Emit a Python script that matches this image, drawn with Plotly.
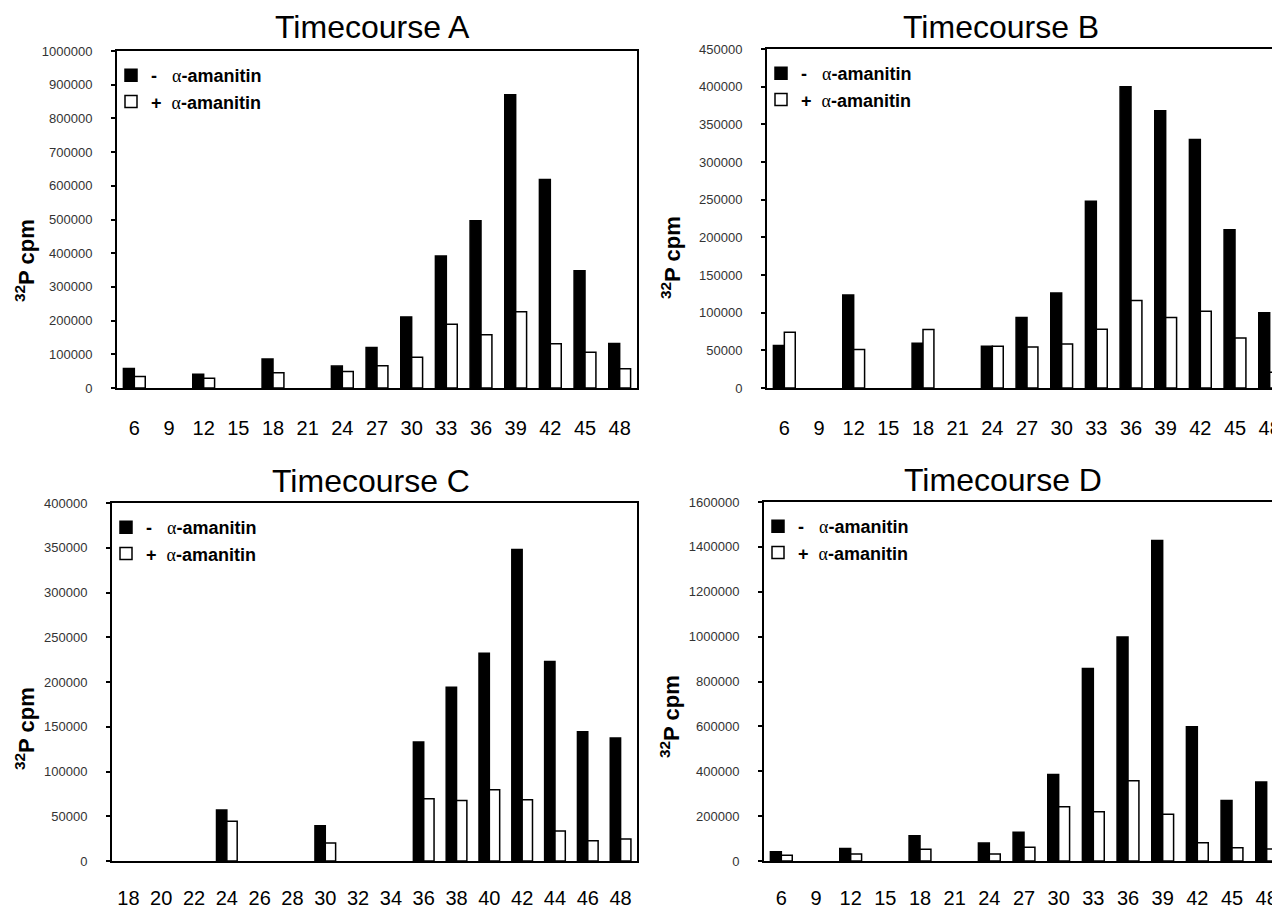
import plotly.graph_objects as go

# ---------------- data ----------------
hours_abd = ["6", "9", "12", "15", "18", "21", "24", "27", "30", "33", "36", "39", "42", "45", "48"]
hours_c = ["18", "20", "22", "24", "26", "28", "30", "32", "34", "36", "38", "40", "42", "44", "46", "48"]

# None = no sample at that time point
a_minus = [58000, None, 41000, None, 86000, None, 65000, 120000, 211000, 392000, 496000, 870000, 619000, 348000, 132000]
a_plus = [34000, None, 29000, None, 45000, None, 49000, 66000, 91000, 189000, 158000, 226000, 131000, 106000, 57000]

b_minus = [56500, None, 123500, None, 59500, None, 55500, 93500, 126000, 248000, 400000, 368000, 330000, 210000, 100000]
b_plus = [74000, None, 51000, None, 77500, None, 55500, 54500, 58500, 78000, 116000, 93500, 102000, 66500, 21000]

c_minus = [None, None, None, 57000, None, None, 39500, None, None, 133000, 194000, 232000, 348000, 223000, 144500, 137500]
c_plus = [None, None, None, 44500, None, None, 20000, None, None, 69500, 67500, 79500, 68500, 33500, 22500, 24500]

d_minus = [41000, None, 56000, None, 113000, None, 80000, 128000, 385000, 858000, 998000, 1428000, 598000, 270000, 352000]
d_plus = [26000, None, 31000, None, 52000, None, 31000, 61000, 242000, 220000, 358000, 208000, 81000, 59000, 53000]

titles = ["Timecourse A", "Timecourse B", "Timecourse C", "Timecourse D"]
ALPHA = "<span style=\"font-family:Liberation Serif;font-weight:normal\">\u03b1</span>"
name_minus = "-\u00a0\u00a0\u00a0" + ALPHA + "-amanitin"
name_plus = "+\u00a0\u00a0" + ALPHA + "-amanitin"

# ---------------- layout geometry (screen pixels) ----------------
OFF = 8                       # page body margin in front of the figure
W, H = 1280 - OFF, 910 - OFF  # figure fills the rest of the window
FONT = "Arial, Liberation Sans, sans-serif"

def fx(px):
    return (px - OFF) / W

def fy(py):
    return 1 - (py - OFF) / H

panels = [
    dict(x0=117, x1=637, top=51, bot=388, cats=hours_abd, m=a_minus, p=a_plus, ymax=1000000, dtick=100000, box=True,
         tx=372, ty=27, yx=25, yy=261, so=21),
    dict(x0=767, x1=1280, top=49, bot=388, cats=hours_abd, m=b_minus, p=b_plus, ymax=450000, dtick=50000, box=False,
         tx=1001, ty=27, yx=671, yy=258, so=21),
    dict(x0=112, x1=637, top=503, bot=861, cats=hours_c, m=c_minus, p=c_plus, ymax=400000, dtick=50000, box=True,
         tx=371, ty=481, yx=25, yy=729, so=18),
    dict(x0=764, x1=1280, top=502, bot=861, cats=hours_abd, m=d_minus, p=d_plus, ymax=1600000, dtick=200000, box=False,
         tx=1003, ty=480, yx=670, yy=717, so=18),
]

fig = go.Figure()
layout = dict(
    width=W, height=H,
    margin=dict(l=0, r=0, t=0, b=0, autoexpand=False),
    paper_bgcolor="white", plot_bgcolor="white",
    font=dict(family=FONT, color="black"),
    barmode="group", bargap=0.37, bargroupgap=0,
    showlegend=True,
    annotations=[],
)

for i, pn in enumerate(panels):
    k = "" if i == 0 else str(i + 1)
    xa, ya = "x" + k, "y" + k
    lg = "legend" + k
    ncat = len(pn["cats"])
    catw = (637 - pn["x0"]) / ncat if pn["box"] else (637 - 117) / 15
    rng_end = -0.5 + (pn["x1"] - pn["x0"]) / catw

    fig.add_trace(go.Bar(x=pn["cats"], y=pn["m"], name=name_minus, xaxis=xa, yaxis=ya, legend=lg,
                         marker=dict(color="black", line=dict(color="black", width=1.5))))
    fig.add_trace(go.Bar(x=pn["cats"], y=pn["p"], name=name_plus, xaxis=xa, yaxis=ya, legend=lg,
                         marker=dict(color="white", line=dict(color="black", width=1.5))))

    layout["xaxis" + k] = dict(
        domain=[fx(pn["x0"]), min(1.0, fx(pn["x1"]))], anchor=ya, type="category", automargin=False,
        range=[-0.5, rng_end], showline=True, linecolor="black", linewidth=2, mirror=True,
        showgrid=False, zeroline=False, ticks="", ticklabelstandoff=pn["so"],
        tickfont=dict(family=FONT, size=20, color="black"), fixedrange=True,
    )
    layout["yaxis" + k] = dict(
        domain=[fy(pn["bot"]), fy(pn["top"])], anchor=xa, range=[0, pn["ymax"]], automargin=False,
        dtick=pn["dtick"], tickformat="d", showline=True, linecolor="black", linewidth=2,
        mirror=pn["box"], showgrid=False, zeroline=False, ticks="outside", ticklen=4,
        tickwidth=1.5, tickcolor="black", ticklabelstandoff=16,
        tickfont=dict(family=FONT, size=13, color="#333333"), fixedrange=True,
    )
    layout[lg] = dict(
        x=fx(pn["x0"] - 6), y=fy(pn["top"] + 6), xanchor="left", yanchor="top",
        bgcolor="rgba(0,0,0,0)", borderwidth=0,
        font=dict(family=FONT, size=18, color="black", weight="bold"),
        itemclick=False, itemdoubleclick=False, tracegroupgap=0,
    )
    layout["annotations"].append(dict(
        text=titles[i], x=fx(pn["tx"]), y=fy(pn["ty"]), xref="paper", yref="paper",
        xanchor="center", yanchor="middle", showarrow=False,
        font=dict(family=FONT, size=32, color="black"),
    ))
    layout["annotations"].append(dict(
        text="<b><sup>32</sup>P cpm</b>", x=fx(pn["yx"]), y=fy(pn["yy"]), xref="paper", yref="paper",
        xanchor="center", yanchor="middle", showarrow=False, textangle=-90,
        font=dict(family=FONT, size=22, color="black"),
    ))

fig.update_layout(**layout)
fig.write_html("out.html")
